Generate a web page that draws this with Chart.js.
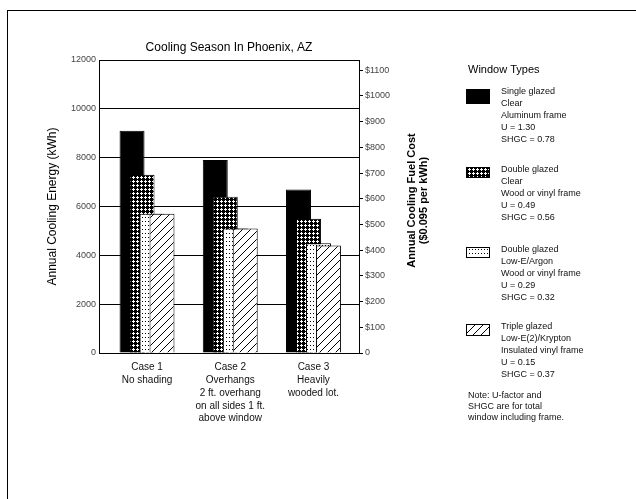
<!DOCTYPE html>
<html>
<head>
<meta charset="utf-8">
<script src="https://cdn.jsdelivr.net/npm/chart.js@4/dist/chart.umd.min.js"></script>
<style>
html,body{margin:0;padding:0;background:#fff;}
canvas{display:block;}
</style>
</head>
<body>
<canvas id="c" width="636" height="499"></canvas>
<script>
// ---- data ----
const caseLabels = [
  ["Case 1", "No shading"],
  ["Case 2", "Overhangs", "2 ft. overhang", "on all sides 1 ft.", "above window"],
  ["Case 3", "Heavily", "wooded lot."]
];
const singleClear = [9100, 7900, 6700];
const doubleClear = [7300, 6400, 5500];
const doubleLowE  = [5700, 5100, 4500];
const tripleLowE  = [5700, 5100, 4400];
const energyTicks = [0, 2000, 4000, 6000, 8000, 10000, 12000];
const costTicks   = [0, 100, 200, 300, 400, 500, 600, 700, 800, 900, 1000, 1100];
const costPerKWh  = 0.095;
const chartTitle  = "Cooling Season In Phoenix, AZ";
const leftTitle   = "Annual Cooling Energy (kWh)";
const rightTitle  = ["Annual Cooling Fuel Cost", "($0.095 per kWh)"];
const legendTitle = "Window Types";
const legendItems = [
  ["Single glazed", "Clear", "Aluminum frame", "U = 1.30", "SHGC = 0.78"],
  ["Double glazed", "Clear", "Wood or vinyl frame", "U = 0.49", "SHGC = 0.56"],
  ["Double glazed", "Low-E/Argon", "Wood or vinyl frame", "U = 0.29", "SHGC = 0.32"],
  ["Triple glazed", "Low-E(2)/Krypton", "Insulated vinyl frame", "U = 0.15", "SHGC = 0.37"]
];
const noteLines = ["Note: U-factor and", "SHGC are for total", "window including frame."];

// ---- patterns ----
function makeTile(w, h, draw) {
  const c = document.createElement('canvas');
  c.width = w; c.height = h;
  const x = c.getContext('2d');
  draw(x);
  return document.getElementById('c').getContext('2d').createPattern(c, 'repeat');
}
const patBlack = '#000';
const patGrid = makeTile(4, 4, x => {
  x.fillStyle = '#000'; x.fillRect(0, 0, 4, 4);
  x.fillStyle = '#fff';
  x.fillRect(0, 1, 3, 1);
  x.fillRect(1, 0, 1, 3);
});
const patDots = makeTile(3, 4, x => {
  x.fillStyle = '#fff'; x.fillRect(0, 0, 3, 4);
  x.fillStyle = '#000'; x.fillRect(1, 1, 1, 1);
});
const patHatch = makeTile(8, 8, x => {
  x.fillStyle = '#fff'; x.fillRect(0, 0, 8, 8);
  x.fillStyle = '#000';
  for (let i = 0; i < 8; i++) x.fillRect(i, 7 - i, 1, 1);
});
const fills = [patBlack, patGrid, patDots, patHatch];

const FONT = "'Liberation Sans', Arial, sans-serif";

// ---- plugins ----
const forwardOrder = {
  id: 'forwardOrder',
  beforeDatasetsDraw(chart) {
    const metas = chart.getSortedVisibleDatasetMetas();
    for (const m of metas) {
      if (typeof chart._drawDataset === 'function') chart._drawDataset(m);
      else m.controller.draw();
    }
    return false;
  }
};

const decorations = {
  id: 'decorations',
  beforeDraw(chart) {
    const ctx = chart.ctx;
    ctx.save();
    ctx.fillStyle = '#fff';
    ctx.fillRect(0, 0, chart.width, chart.height);
    ctx.strokeStyle = '#000';
    ctx.lineWidth = 1;
    ctx.strokeRect(7.5, 10.5, 700, 600);
    ctx.restore();
  },
  afterDraw(chart) {
    const ctx = chart.ctx;
    const a = chart.chartArea;
    ctx.save();
    ctx.fillStyle = '#000';
    // title
    ctx.font = "12px " + FONT;
    ctx.textAlign = 'center';
    ctx.textBaseline = 'middle';
    ctx.fillText(chartTitle, (a.left + a.right) / 2, 48);
    // right axis title, reading bottom to top
    ctx.save();
    ctx.translate(412, (a.top + a.bottom) / 2 - 6);
    ctx.rotate(-Math.PI / 2);
    ctx.font = "bold 11px " + FONT;
    ctx.fillText(rightTitle[0], 0, 0);
    ctx.fillText(rightTitle[1], 0, 12);
    ctx.restore();
    // legend
    ctx.textAlign = 'left';
    ctx.font = "11px " + FONT;
    ctx.fillText(legendTitle, 468, 70);
    ctx.font = "9px " + FONT;
    const tops = [89, 167, 247, 324];
    const swH = [15, 11, 11, 12];
    legendItems.forEach((lines, i) => {
      const y0 = tops[i];
      ctx.fillStyle = fills[i];
      ctx.fillRect(466, y0, 24, swH[i]);
      ctx.strokeStyle = '#000';
      ctx.lineWidth = 1;
      ctx.strokeRect(466.5, y0 + 0.5, 23, swH[i] - 1);
      ctx.fillStyle = '#111';
      lines.forEach((t, j) => ctx.fillText(t, 501, y0 + 3 + j * 12));
    });
    noteLines.forEach((t, j) => ctx.fillText(t, 468, 396 + j * 11));
    ctx.restore();
  }
};

// ---- chart ----
const names = ["Single glazed, clear", "Double glazed, clear", "Double glazed, Low-E/Argon", "Triple glazed, Low-E(2)/Krypton"];
const series = [singleClear, doubleClear, doubleLowE, tripleLowE];

new Chart(document.getElementById('c'), {
  type: 'bar',
  data: {
    datasets: series.map((s, i) => ({
      label: names[i],
      data: s.map((v, k) => ({ x: k, y: v })),
      backgroundColor: fills[i],
      borderColor: '#000',
      borderWidth: 1,
      categoryPercentage: 0.48,
      barPercentage: 2.5,
      yAxisID: 'y'
    }))
  },
  options: {
    responsive: false,
    animation: false,
    events: [],
    layout: { padding: { left: 40, right: 237, top: 60, bottom: 46 } },
    plugins: {
      legend: { display: false },
      title: { display: false },
      tooltip: { enabled: false }
    },
    scales: {
      x: {
        type: 'linear',
        offset: false,
        min: -0.577,
        max: 2.547,
        afterBuildTicks(s) { s.ticks = caseLabels.map((_, k) => ({ value: k })); },
        grid: { display: false, drawTicks: false },
        border: { display: true, color: '#000', width: 1 },
        ticks: {
          color: '#111',
          font: { family: FONT, size: 10, lineHeight: 1.28 },
          padding: 8,
          autoSkip: false,
          maxRotation: 0,
          callback: v => caseLabels[v]
        },
        afterFit(s) { s.height = 100; }
      },
      y: {
        position: 'left',
        min: 0,
        max: energyTicks[energyTicks.length - 1],
        afterBuildTicks(s) { s.ticks = energyTicks.map(v => ({ value: v })); },
        grid: { color: '#000', lineWidth: 1, drawTicks: false },
        border: { display: true, color: '#000', width: 1 },
        ticks: {
          color: '#444',
          font: { family: FONT, size: 9 },
          padding: 3,
          callback: v => String(v)
        },
        title: {
          display: true,
          text: leftTitle,
          color: '#000',
          font: { family: FONT, size: 12 },
          padding: { top: 5, bottom: 0 }
        },
        afterFit(s) { s.width = 59; }
      },
      y2: {
        position: 'right',
        min: 0,
        max: energyTicks[energyTicks.length - 1] * costPerKWh,
        afterBuildTicks(s) { s.ticks = costTicks.map(v => ({ value: v })); },
        grid: { drawOnChartArea: false, drawTicks: true, tickLength: 4, color: '#000' },
        border: { display: true, color: '#000', width: 1 },
        ticks: {
          color: '#444',
          font: { family: FONT, size: 9 },
          padding: 2,
          callback: v => v === 0 ? '0' : '$' + v
        },
        afterFit(s) { s.width = 40; }
      }
    }
  },
  plugins: [forwardOrder, decorations]
});
</script>
</body>
</html>
